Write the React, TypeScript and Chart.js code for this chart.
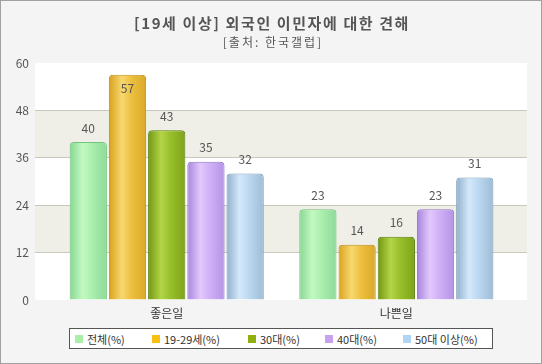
import React, { useEffect, useRef } from "react";
import { Chart, registerables } from "chart.js";

Chart.register(...registerables);

const categories = ["좋은일", "나쁜일"];
const seriesNames = ["전체(%)", "19-29세(%)", "30대(%)", "40대(%)", "50대 이상(%)"];
const allAges = [40, 23];
const age19to29 = [57, 14];
const age30s = [43, 16];
const age40s = [35, 23];
const age50plus = [32, 31];
const seriesValues = [allAges, age19to29, age30s, age40s, age50plus];
const yTicks = [0, 12, 24, 36, 48, 60];

const legendColors = ["#a8f0a8", "#f8c010", "#90b010", "#c8a0f0", "#b0d4f4"];
const borderColors = ["#74c47e", "#c09018", "#5c8010", "#9474c8", "#7c9cba"];
const gradStops = [
  ["#86d790", "#c2f9c2", "#aaefad", "#8ed99a"],
  ["#d7a21c", "#f7d870", "#eec040", "#d9a828"],
  ["#6f9710", "#b4d448", "#98c02a", "#7ea21a"],
  ["#a684dc", "#e2c8fc", "#d0b0f6", "#b494e4"],
  ["#90b0cc", "#d4e8fa", "#bcd8f0", "#9ebcd6"],
];

const FONT = '"Noto Sans CJK KR", "Noto Sans", sans-serif';

const bgPlugin = {
  id: "bgBands",
  beforeDraw(chart: any) {
    const { ctx, chartArea } = chart;
    const y = chart.scales.y;
    ctx.save();
    ctx.fillStyle = "#ffffff";
    ctx.fillRect(chartArea.left, chartArea.top, chartArea.right - chartArea.left, chartArea.bottom - chartArea.top);
    ctx.fillStyle = "#efefe8";
    [[36, 48], [12, 24]].forEach(([a, b]) => {
      const y1 = y.getPixelForValue(b);
      const y2 = y.getPixelForValue(a);
      ctx.fillRect(chartArea.left, y1, chartArea.right - chartArea.left, y2 - y1);
    });
    ctx.restore();
  },
};

const gradientPlugin = {
  id: "barGradients",
  beforeDatasetsDraw(chart: any) {
    const { ctx } = chart;
    chart.data.datasets.forEach((_: any, di: number) => {
      const meta = chart.getDatasetMeta(di);
      meta.data.forEach((el: any) => {
        const w = el.width;
        const g = ctx.createLinearGradient(el.x - w / 2, 0, el.x + w / 2, 0);
        const s = gradStops[di];
        g.addColorStop(0, s[0]);
        g.addColorStop(0.35, s[1]);
        g.addColorStop(0.6, s[2]);
        g.addColorStop(1, s[3]);
        el.options.backgroundColor = g;
      });
    });
  },
};

const labelPlugin = {
  id: "valueLabels",
  afterDatasetsDraw(chart: any) {
    const { ctx, chartArea } = chart;
    ctx.save();
    ctx.font = `12px ${FONT}`;
    ctx.fillStyle = "#555555";
    ctx.textAlign = "center";
    ctx.textBaseline = "middle";
    chart.data.datasets.forEach((ds: any, di: number) => {
      const meta = chart.getDatasetMeta(di);
      meta.data.forEach((el: any, i: number) => {
        const v = ds.data[i].y;
        let ty = el.y - 14;
        if (ty < chartArea.top + 6) ty = el.y + 14;
        ctx.fillText(String(v), el.x, ty);
      });
    });
    ctx.restore();
  },
};

export default function App() {
  const ref = useRef<HTMLCanvasElement>(null);

  useEffect(() => {
    if (!ref.current) return;
    const chart = new Chart(ref.current, {
      type: "bar",
      data: {
        datasets: seriesValues.map((vals, di) => ({
          label: seriesNames[di],
          data: vals.map((v, i) => ({ x: i, y: v })),
          backgroundColor: () => legendColors[di],
          borderColor: borderColors[di],
          borderWidth: 1,
          borderRadius: 4,
          borderSkipped: "bottom",
          categoryPercentage: 0.854,
          barPercentage: 0.95,
        })),
      },
      options: {
        animation: false,
        responsive: false,
        devicePixelRatio: 1,
        layout: { padding: { top: 63, right: 15, bottom: 0, left: 0 } },
        plugins: {
          legend: { display: false },
          title: { display: false },
          tooltip: { enabled: false },
        },
        scales: {
          x: {
            type: "linear",
            min: -0.5736,
            max: 1.569,
            offset: false,
            grid: { display: false, drawTicks: false },
            border: { display: false },
            afterBuildTicks: (s: any) => {
              s.ticks = categories.map((_, i) => ({ value: i }));
            },
            afterFit: (s: any) => {
              s.height = 64;
            },
            ticks: {
              autoSkip: false,
              maxRotation: 0,
              padding: 6,
              color: "#333333",
              font: { family: FONT, size: 12 },
              callback: (v: any) => categories[v] ?? "",
            },
          },
          y: {
            min: 0,
            max: 60,
            afterBuildTicks: (s: any) => {
              s.ticks = yTicks.map((v) => ({ value: v }));
            },
            afterFit: (s: any) => {
              s.width = 35;
            },
            grid: {
              drawTicks: false,
              color: (c: any) => (c.tick && (c.tick.value === 0 || c.tick.value === 60) ? "rgba(0,0,0,0)" : "#c8c8bd"),
              lineWidth: 1,
            },
            border: { display: false },
            ticks: {
              padding: 6,
              color: "#555555",
              font: { family: FONT, size: 12 },
            },
          },
        },
      },
      plugins: [bgPlugin, gradientPlugin, labelPlugin],
    } as any);
    return () => chart.destroy();
  }, []);

  const legendSquareX = [75, 152, 248, 325, 403];

  return (
    <div
      style={{
        position: "absolute",
        left: 0,
        top: 0,
        width: 542,
        height: 364,
        background: "#f4f4f4",
        fontFamily: FONT,
        overflow: "hidden",
      }}
    >
      <canvas ref={ref} width={542} height={364} style={{ position: "absolute", left: 0, top: 0, width: 542, height: 364 }} />
      <div
        style={{
          position: "absolute",
          left: 1,
          top: 13,
          width: 542,
          textAlign: "center",
          fontSize: 15,
          fontWeight: "bold",
          color: "#555555",
          lineHeight: "20px",
          letterSpacing: 1.6,
        }}
      >
        [19세 이상] 외국인 이민자에 대한 견해
      </div>
      <div
        style={{
          position: "absolute",
          left: 2,
          top: 33,
          width: 542,
          textAlign: "center",
          fontSize: 12,
          color: "#555555",
          lineHeight: "18px",
          letterSpacing: 2,
        }}
      >
        [출처: 한국갤럽]
      </div>
      <div
        style={{
          position: "absolute",
          left: 69,
          top: 328,
          width: 424,
          height: 21,
          boxSizing: "border-box",
          border: "1px solid #555555",
          background: "#ffffff",
        }}
      />
      {seriesNames.map((name, i) => (
        <React.Fragment key={name}>
          <div
            style={{
              position: "absolute",
              left: legendSquareX[i],
              top: 335,
              width: 8,
              height: 8,
              background: legendColors[i],
            }}
          />
          <div
            style={{
              position: "absolute",
              left: legendSquareX[i] + 12,
              top: 330,
              height: 18,
              lineHeight: "18px",
              fontSize: 11,
              color: "#333333",
              whiteSpace: "nowrap",
            }}
          >
            {name}
          </div>
        </React.Fragment>
      ))}
      <div
        style={{
          position: "absolute",
          left: 0,
          top: 0,
          width: 542,
          height: 364,
          boxSizing: "border-box",
          border: "1px solid #a0a0a0",
          pointerEvents: "none",
        }}
      />
    </div>
  );
}
